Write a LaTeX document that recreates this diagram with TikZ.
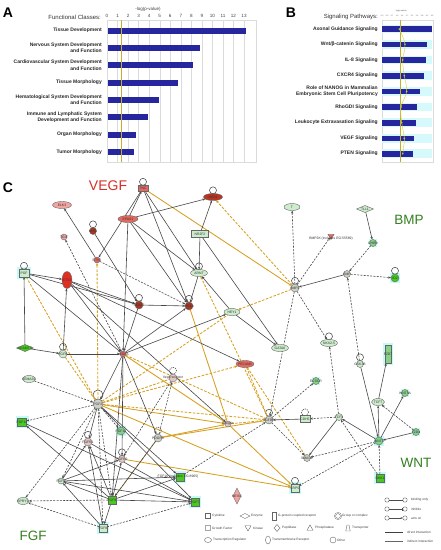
\documentclass[tikz,border=0pt]{standalone}
\usepackage{fontspec}
\setmainfont{Liberation Sans}
\usetikzlibrary{arrows.meta,shapes.geometric}
\definecolor{navy}{RGB}{38,38,158}
\definecolor{thr}{RGB}{196,176,40}
\definecolor{gold}{RGB}{214,160,32}
\definecolor{lred}{RGB}{240,165,160}
\definecolor{mred}{RGB}{228,105,95}
\definecolor{dred}{RGB}{165,55,35}
\definecolor{rred}{RGB}{224,48,36}
\definecolor{lgreen}{RGB}{205,236,205}
\definecolor{mgreen}{RGB}{135,208,135}
\definecolor{bgreen}{RGB}{72,200,32}
\definecolor{gnode}{RGB}{205,208,198}
\definecolor{pnode}{RGB}{228,198,198}
\definecolor{txtred}{RGB}{212,48,42}
\definecolor{txtgreen}{RGB}{52,128,30}
\definecolor{band}{RGB}{214,250,252}
\definecolor{ratio}{RGB}{230,205,60}
\definecolor{halo}{RGB}{198,250,248}
\pgfdeclarelayer{bg}
\pgfdeclarelayer{edges}
\pgfsetlayers{bg,edges,main}
\newcommand{\myloop}[2][lp]{\draw[#1] ([yshift=3.2pt]#2.north) circle[radius=3.5pt];}
\newcommand{\myhalo}[1]{\fill[halo] ([shift={(-2pt,-2pt)}]#1.south west) rectangle ([shift={(2pt,2pt)}]#1.north east);}
\begin{document}
\begin{tikzpicture}[x=1pt,y=-1pt,
  gridl/.style={draw=black!14, line width=0.3pt},
  tickA/.style={font=\fontsize{4.6}{4.6}\selectfont, text=black!75, inner sep=0pt},
  tickB/.style={font=\fontsize{1.8}{1.8}\selectfont, text=black!70, inner sep=0pt},
  bar/.style={fill=navy, draw=none},
  labA/.style={anchor=east, align=right, font=\fontsize{5}{6.4}\selectfont\bfseries, text=black!85, inner sep=0pt},
  head/.style={font=\fontsize{14}{14}\selectfont\bfseries, inner sep=0pt},
  big/.style={font=\fontsize{13.5}{13.5}\selectfont, inner sep=0pt},
  thrl/.style={draw=thr, line width=0.7pt},
  nd/.style={draw=black!60, line width=0.4pt, inner sep=0pt, outer sep=0pt},
  lb/.style={font=\fontsize{3.4}{3.4}\selectfont, text=black!80, inner sep=0pt},
  lab/.style={label={[lb]center:#1}},
  elx/.style 2 args={nd, ellipse, minimum width=#1, minimum height=#2},
  rx/.style 2 args={nd, rectangle, minimum width=#1, minimum height=#2},
  cx/.style={nd, circle, minimum size=#1},
  dx/.style 2 args={nd, diamond, minimum width=#1, minimum height=#2},
  tx/.style={nd, regular polygon, regular polygon sides=3, minimum size=#1},
  ed/.style={draw=black!72, line width=0.6pt, -{Stealth[length=2.8pt,width=2.2pt]}},
  ind/.style={ed, dash pattern=on 2pt off 1.3pt},
  ow/.style={draw=gold, line width=0.85pt},
  owd/.style={ow, dash pattern=on 2.6pt off 1.5pt},
  oa/.style={-{Stealth[length=3pt,width=2.4pt]}},
  lp/.style={draw=black!72, line width=0.55pt},
  lpd/.style={lp, dash pattern=on 1.2pt off 0.9pt},
  lgt/.style={anchor=west, font=\fontsize{3.2}{3.2}\selectfont, text=black!75, inner sep=0pt},
  lgl/.style={draw=black!70, line width=0.4pt}
]
\useasboundingbox (0,0) rectangle (440,550);
\begin{pgfonlayer}{bg}
\fill[white] (0,0) rectangle (440,550);
\end{pgfonlayer}

% ---------------- Panel A ----------------
\node[head] (lA) at (8,13) {A};
\node[anchor=east, font=\fontsize{6}{6}\selectfont, text=black!80, inner sep=0pt] (fcA) at (101,17) {Functional Classes:};
\node[font=\fontsize{4.5}{4.5}\selectfont, text=black!75, inner sep=0pt] (axA) at (148,9) {-log(p-value)};
\foreach \k in {0,...,13} {
  \draw[gridl] (107+10.54*\k,20) -- (107+10.54*\k,162);
  \node[tickA] (tA\k) at (107+10.54*\k,16) {\k};
}
\draw[gridl] (107,20) rectangle (256,162);
\fill[bar] (107.5,27.7) rectangle (245.7,33.7);
\fill[bar] (107.5,45) rectangle (200,51);
\fill[bar] (107.5,62.3) rectangle (193,68.3);
\fill[bar] (107.5,79.7) rectangle (177.7,85.7);
\fill[bar] (107.5,97) rectangle (159,103);
\fill[bar] (107.5,114.3) rectangle (147.7,120.3);
\fill[bar] (107.5,131.7) rectangle (136.3,137.7);
\fill[bar] (107.5,149) rectangle (134.3,155);
\draw[thrl] (121,20) -- (121,162);
\node[labA] (a1) at (102,30.7) {Tissue Development};
\node[labA] (a2) at (102,48) {Nervous System Development\\and Function};
\node[labA] (a3) at (102,65.3) {Cardiovascular System Development\\and Function};
\node[labA] (a4) at (102,82.7) {Tissue Morphology};
\node[labA] (a5) at (102,100) {Hematological System Development\\and Function};
\node[labA] (a6) at (102,117.3) {Immune and Lymphatic System\\Development and Function};
\node[labA] (a7) at (102,134.7) {Organ Morphology};
\node[labA] (a8) at (102,152) {Tumor Morphology};

% ---------------- Panel B ----------------
\node[head] (lB) at (291,12.5) {B};
\node[anchor=east, font=\fontsize{6}{6}\selectfont, text=black!80, inner sep=0pt] (spB) at (378,17) {Signaling Pathways:};
\node[font=\fontsize{2}{2}\selectfont, text=black!70, inner sep=0pt] (axB) at (401,11) {-log(p-value)};
\foreach \k/\v in {0/0.0,1/0.3,2/0.7,3/1.0,4/1.4,5/1.7,6/2.1,7/2.4,8/2.8,9/3.1,10/3.5} {
  \node[tickB] (tB\k) at (382+5*\k,16.3) {\v};
}
\draw[gridl] (381.7,20) rectangle (433,162);
\foreach \y/\e in {29/431.7,44.3/427.3,60/426.3,75.7/424.3,91.3/420.3,107/417.3,122.7/415.7,138.3/413.7,153.7/413.3} {
  \fill[band] (382,\y-4.3) rectangle (432,\y+4.3);
  \fill[bar] (382.3,\y-2.8) rectangle (\e,\y+2.8);
}
\draw[thrl] (400.7,20) -- (400.7,162);
\draw[draw=ratio, line width=0.45pt] plot[smooth, tension=0.6] coordinates {(399.3,29) (405,44.3) (402.7,60) (404.3,75.7) (406.7,91.3) (401,107) (401.7,122.7) (404.3,138.3) (402.7,153.7)};
\foreach \x/\y in {399.3/29,405/44.3,402.7/60,404.3/75.7,406.7/91.3,401/107,401.7/122.7,404.3/138.3,402.7/153.7} {
  \fill[fill=ratio!80!green] (\x,\y) circle[radius=0.9pt];
}
\node[labA] (b1) at (378,29) {Axonal Guidance Signaling};
\node[labA] (b2) at (378,44.3) {Wnt/β-catenin Signaling};
\node[labA] (b3) at (378,60) {IL-8 Signaling};
\node[labA] (b4) at (378,75.7) {CXCR4 Signaling};
\node[labA] (b5) at (378,91.3) {Role of NANOG in Mammalian\\Embryonic Stem Cell Pluripotency};
\node[labA] (b6) at (378,107) {RhoGDI Signaling};
\node[labA] (b7) at (378,122.7) {Leukocyte Extravasation Signaling};
\node[labA] (b8) at (378,138.3) {VEGF Signaling};
\node[labA] (b9) at (378,153.7) {PTEN Signaling};

% ---------------- Panel C ----------------
\node[head] (lC) at (8,188) {C};
\node[big, text=txtred, font=\fontsize{14}{14}\selectfont] (hv) at (108,186) {VEGF};
\node[big, text=txtgreen] (hb) at (409,220) {BMP};
\node[big, text=txtgreen] (hw) at (416,463) {WNT};
\node[big, text=txtgreen] (hf) at (33,536) {FGF};

\node[rx={10pt}{6pt}, fill=mred, lab=TNC] (tnc) at (143,188) {};
\node[elx={19pt}{7pt}, fill=lred, lab=ELK3] (elk) at (62,205) {};
\node[cx=6pt, fill=lred, lab=TGIF] (tgif) at (64,237) {};
\node[cx=7pt, fill=dred, lab=MYC] (myc) at (93,231) {};
\node[elx={20pt}{7pt}, fill=mred, lab=EPAS1] (epas) at (128,219) {};
\node[cx=6pt, fill=mred, lab=ETV2] (etv) at (97,260) {};
\node[elx={10pt}{17pt}, fill=rred, lab=ETS1] (ets) at (67,280) {};
\node[rx={10pt}{8pt}, fill=lgreen, lab=PGF] (pgf) at (24,273) {};
\node[elx={19pt}{7pt}, fill=dred!70!rred, lab=HES1] (hes) at (213,197) {};
\node[rx={17pt}{7pt}, fill=lgreen, lab=NR2F2] (nr) at (200,234) {};
\node[elx={17pt}{7pt}, fill=lgreen, lab=ARNT] (arnt) at (199,273) {};
\node[cx=8pt, fill=dred, lab=SOX17] (sox) at (139,305) {};
\node[cx=8pt, fill=dred, lab=HIF1A] (hif) at (189,306) {};
\node[dx={17pt}{7pt}, fill=bgreen, lab=ADAMTS] (adam) at (25,348) {};
\node[cx=8pt, fill=lgreen, lab=FGFR] (fgfr) at (63,354) {};
\node[cx=6pt, fill=mred, lab=VEGFA] (vegfa) at (123,354) {};
\node[elx={16pt}{7pt}, fill=lgreen, lab=T] (tn) at (292,207) {};
\node[dx={17pt}{7pt}, fill=lgreen, lab=TLL1] (tll) at (365,209) {};
\node[tx=7pt, shape border rotate=180, fill=mred] (bmpk) at (331,236) {};
\node[lb] (bmpkl) at (331,239) {BMP2K (includes EG:55589)};
\node[cx=7pt, fill=mgreen, lab=CHRD] (chrd) at (373,243) {};
\node[cx=7pt, fill=gnode, lab=BMP] (bmp) at (347,274) {};
\node[cx=8pt, fill=bgreen, lab=ID2] (idtwo) at (395,278) {};
\node[cx=8pt, fill=gnode, lab=BMP2] (bmptwo) at (295,288) {};
\node[elx={16pt}{7pt}, fill=lgreen, lab=HEY1] (hey) at (232,312) {};
\node[elx={17pt}{7pt}, fill=lgreen, lab=GATA6] (gata) at (280,348) {};
\node[elx={17pt}{7pt}, fill=lgreen, lab=NKX2-5] (nkx) at (329,343) {};
\node[cx=7pt, fill=lgreen, lab=GSK3B] (gsk) at (360,364) {};
\node[rx={6pt}{18pt}, fill=mgreen, lab=FZD7] (fzdseven) at (388,354) {};
\node[elx={13pt}{7pt}, fill=lgreen, lab=SEMA3C] (sema) at (29,379) {};
\node[cx=10pt, fill=gnode, lab=FGF2] (fgftwo) at (98,404) {};
\node[rx={9pt}{8pt}, fill=bgreen, lab=FGF12] (fgftwelve) at (22,422) {};
\node[cx=8pt, fill=mgreen, lab=FGF13] (fgfthirteen) at (121,431) {};
\node[cx=8pt, fill=pnode, lab=FGFR1] (fgfrone) at (88,442) {};
\node[cx=7pt, fill=pnode, lab=FGFR2] (fgfrtwo) at (122,459) {};
\node[cx=6pt, fill=lgreen, lab=FGF1] (fgfone) at (61,481) {};
\node[rx={8pt}{8pt}, fill=bgreen] (fgfsixteen) at (180,477) {};
\node[lb] (fgfsixteenl) at (178,477) {FGF16 (includes EG:8965)};
\node[elx={12pt}{7pt}, fill=lgreen, lab=SPRY1] (spry) at (23,501) {};
\node[rx={8pt}{8pt}, fill=bgreen, lab=FGF9] (fgfnine) at (112,500) {};
\node[rx={8pt}{8pt}, fill=bgreen, lab=FGF7] (fgfseven) at (195,502) {};
\node[rx={8pt}{8pt}, fill=lgreen, lab=FGF8] (fgfeight) at (103,528) {};
\node[cx=8pt, fill=pnode, lab=Vegf receptor] (vegfr) at (173,378) {};
\node[elx={18pt}{7pt}, fill=mred, lab=PECAM1] (pecam) at (245,364) {};
\node[cx=6pt, fill=pnode, lab=Integrin] (integ) at (228,424) {};
\node[cx=8pt, fill=gnode, lab=TGFBR] (tgfbr) at (269,420) {};
\node[cx=8pt, fill=gnode, lab=PDGFB] (pdgfb) at (158,438) {};
\node[cx=7pt, fill=mgreen, lab=ECSCR] (ecs) at (316,381) {};
\node[rx={10pt}{7pt}, fill=lgreen, lab=CDH5] (cdh) at (305,419) {};
\node[cx=7pt, fill=lgreen, lab=TCF4] (tcffour) at (339,417) {};
\node[elx={13pt}{7pt}, fill=lgreen, lab=TCF7] (tcfseven) at (378,402) {};
\node[cx=7pt, fill=mgreen, lab=WNT5A] (wnta) at (405,393) {};
\node[cx=8pt, fill=mgreen, lab=WNT3] (wnt) at (379,441) {};
\node[cx=7pt, fill=mgreen, lab=FZD4] (fzd) at (416,432) {};
\node[rx={8pt}{8pt}, fill=bgreen, lab=DKK1] (dkk) at (380,478) {};
\node[cx=7pt, fill=gnode, lab=SMAD1] (smad) at (307,458) {};
\node[rx={8pt}{8pt}, fill=lgreen, lab=LRP5] (lrp) at (295,488) {};
\node[dx={8pt}{16pt}, fill=lred, lab=MEIS1] (meis) at (237,496) {};

\begin{pgfonlayer}{bg}
\myhalo{pgf} \myhalo{idtwo} \myhalo{fzdseven} \myhalo{fgftwelve} \myhalo{fgfthirteen}
\myhalo{fgfsixteen} \myhalo{fgfseven} \myhalo{fgfeight} \myhalo{wnta} \myhalo{fzd}
\myhalo{dkk} \myhalo{lrp} \myhalo{ecs} \myhalo{wnt} \myhalo{chrd}
\end{pgfonlayer}

\begin{pgfonlayer}{edges}
% loops
\myloop{tnc} \myloop{myc} \myloop{hes} \myloop{arnt} \myloop{pgf} \myloop{sox}
\myloop{hif} \myloop{fgfr} \myloop{idtwo} \myloop{bmptwo} \myloop{nkx} \myloop{gsk}
\myloop{fgfrone} \myloop{fgfrtwo} \myloop{tgfbr} \myloop{lrp}
\myloop[lpd]{vegfr} \myloop[lpd]{pdgfb} \myloop[lpd]{cdh}
\draw[lp] ([yshift=4pt]fgftwo.north) circle[radius=5pt];
% orange solid
\draw[ow, oa] (tnc) -- (bmptwo);
\draw[ow, oa] (hif) -- (integ);
\draw[ow, oa] (fgftwo) -- (integ);
\draw[ow, oa] (vegfa) -- (integ);
\draw[ow, oa] (pdgfb) -- (integ);
\draw[ow] (pdgfb) -- (tgfbr);
\draw[ow, oa] (integ) -- (lrp);
\draw[ow, oa] (fgftwo) -- (lrp);
\draw[ow, oa] (fgfrtwo) -- (lrp);
% orange dashed
\draw[owd, oa] (bmptwo) -- (hes);
\draw[owd, oa] (bmptwo) -- (hey);
\draw[owd, oa] (tgfbr) -- (arnt);
\draw[owd] (pgf) -- (fgftwo);
\draw[owd] (fgfr) -- (fgftwo);
\draw[owd, oa] (fgftwo) -- (etv);
\draw[owd, oa] (fgftwo) -- (pecam);
\draw[owd] (fgftwo) -- (tgfbr);
\draw[owd] (vegfa) -- (tgfbr);
\draw[owd] (fgftwo) -- (vegfr);
\draw[owd] (pecam) -- (smad);
\draw[owd] (pecam) -- (tgfbr);
\draw[owd] (integ) -- (tgfbr);
\draw[owd] (fgfnine) -- (pdgfb);
\draw[owd] (fgftwo) -- (hey);
% direct interactions
\draw[ed] (epas) -- (tnc);
\draw[ed] (epas) -- (hes);
\draw[ed] (epas) -- (arnt);
\draw[ed] (epas) -- (hif);
\draw[ed] (epas) -- (vegfa);
\draw[ed] (tnc) -- (etv);
\draw[ed] (tnc) -- (arnt);
\draw[ed] (tnc) -- (hif);
\draw[ed] (etv) -- (elk);
\draw[ed] (myc) -- (sox);
\draw[ed] (nr) -- (hes);
\draw[ed] (nr) -- (arnt);
\draw[ed] (arnt) -- (hif);
\draw[ed] (hey) -- (arnt);
\draw[ed] (nr) -- (gata);
\draw[ed] (hey) -- (gata);
\draw[ed] (pgf) -- (ets);
\draw[ed] (pgf) -- (sox);
\draw[ed] (pgf) -- (vegfa);
\draw[ed] (adam) -- (pgf);
\draw[ed] (adam) -- (fgfr);
\draw[ed] (fgfr) -- (ets);
\draw[ed] (fgfr) -- (vegfa);
\draw[ed] (ets) -- (sox);
\draw[ed] (ets) -- (vegfa);
\draw[ed] (ets) -- (integ);
\draw[ed] (ets) -- (pecam);
\draw[ed] (sox) -- (vegfa);
\draw[ed] (sox) -- (hif);
\draw[ed] (vegfa) -- (hif);
\draw[ed] (vegfa) -- (hey);
\draw[ed] (bmp) -- (bmptwo);
\draw[ed] (tll) -- (chrd);
\draw[ed] (gsk) -- (wnt);
\draw[ed] (wnt) -- (tcfseven);
\draw[ed] (tcfseven) -- (fzdseven);
\draw[ed] (wnt) -- (wnta);
\draw[ed] (fzd) -- (wnt);
\draw[ed] (wnt) -- (tcffour);
\draw[ed] (cdh) -- (tgfbr);
\draw[ed] (tcffour) -- (smad);
\draw[ed] (vegfa) -- (fgftwo);
\draw[ed] (vegfa) -- (pdgfb);
\draw[ed] (vegfa) -- (fgfrtwo);
\draw[ed] (vegfa) -- (fgfnine);
\draw[ed] (fgftwo) -- (fgfseven);
\draw[ed] (fgftwo) -- (fgfsixteen);
\draw[ed] (fgfnine) -- (fgftwelve);
\draw[ed] (fgfnine) -- (fgfone);
\draw[ed] (fgfnine) -- (fgfsixteen);
\draw[ed] (fgfnine) -- (fgfseven);
\draw[ed] (fgfnine) -- (fgfeight);
\draw[ed] (fgfnine) -- (fgfrone);
\draw[ed] (fgfnine) -- (fgfrtwo);
\draw[ed] (fgfone) -- (fgfsixteen);
\draw[ed] (fgfone) -- (fgfseven);
\draw[ed] (fgfone) -- (fgfrone);
\draw[ed] (fgfone) -- (fgfrtwo);
\draw[ed] (fgfeight) -- (fgfone);
\draw[ed] (fgfeight) -- (fgfrone);
\draw[ed] (fgftwelve) -- (fgfseven);
\draw[ed] (fgfrone) -- (fgfseven);
\draw[ed] (fgftwo) -- (fgfrone);
\draw[ed] (pdgfb) -- (fgfnine);
% indirect interactions
\draw[ind] (vegfa) -- (tgif);
\draw[ind] (etv) -- (hif);
\draw[ind] (chrd) -- (bmp);
\draw[ind] (bmp) -- (idtwo);
\draw[ind] (gsk) -- (bmp);
\draw[ind] (fzd) -- (tcfseven);
\draw[ind] (dkk) -- (wnt);
\draw[ind] (tcffour) -- (cdh);
\draw[ind] (tgfbr) -- (ecs);
\draw[ind] (tgfbr) -- (smad);
\draw[ind] (wnt) -- (smad);
\draw[ind] (dkk) -- (tcffour);
\draw[ind] (wnt) -- (lrp);
\draw[ind] (bmptwo) -- (tn);
\draw[ind] (bmptwo) -- (bmpk);
\draw[ind] (bmptwo) -- (nkx);
\draw[ind] (bmptwo) -- (tgfbr);
\draw[ind] (tcffour) -- (nkx);
\draw[ind] (sema) -- (fgftwo);
\draw[ind] (fgftwo) -- (fgftwelve);
\draw[ind] (fgftwo) -- (fgfthirteen);
\draw[ind] (fgftwo) -- (fgfone);
\draw[ind] (fgftwo) -- (fgfnine);
\draw[ind] (fgftwo) -- (fgfeight);
\draw[ind] (fgftwo) -- (spry);
\draw[ind] (fgfnine) -- (spry);
\draw[ind] (fgfeight) -- (fgfseven);
\draw[ind] (fgfeight) -- (spry);
\draw[ind] (pdgfb) -- (vegfr);
\draw[ind] (vegfr) -- (fgfrtwo);
\draw[ind] (fgfsixteen) -- (tgfbr);
\end{pgfonlayer}

% ---------------- Legend ----------------
\node[rx={5pt}{5pt}] (lg1) at (208,516) {};
\node[lgt] (lg1t) at (212,516) {Cytokine};
\node[dx={10pt}{5pt}] (lg2) at (245,516) {};
\node[lgt] (lg2t) at (251,516) {Enzyme};
\node[rx={4pt}{8pt}] (lg3) at (274,516) {};
\node[lgt] (lg3t) at (278,516) {G-protein coupled receptor};
\node[cx=6pt, double, double distance=0.6pt] (lg4) at (338,516) {};
\node[lgt] (lg4t) at (342,516) {Group or complex};
\node[rx={5pt}{5pt}, draw=black!35] (lg5) at (208,528) {};
\node[lgt] (lg5t) at (212,528) {Growth Factor};
\node[tx=7pt, shape border rotate=180] (lg6) at (248,527.5) {};
\node[lgt] (lg6t) at (253,528) {Kinase};
\node[dx={6pt}{7pt}] (lg7) at (277,528) {};
\node[lgt] (lg7t) at (282,528) {Peptidase};
\node[tx=7pt] (lg8) at (310,528.5) {};
\node[lgt] (lg8t) at (315,528) {Phosphatase};
\draw[draw=black!55, line width=0.4pt] (345.8,531) -- (347,525) -- (349,525) -- (350.2,531) -- cycle;
\node[lgt] (lg9t) at (352,528) {Transporter};
\node[elx={7pt}{5pt}] (lg10) at (208,540) {};
\node[lgt] (lg10t) at (213,540) {Transcription Regulator};
\node[elx={5pt}{8pt}] (lg11) at (268,540) {};
\node[lgt] (lg11t) at (272,540) {Transmembrane Receptor};
\node[cx=6pt] (lg12) at (333,540) {};
\node[lgt] (lg12t) at (337,540) {Other};

\node[cx=4.4pt] (r1a) at (387,500) {};
\node[cx=4.4pt] (r1b) at (405,500) {};
\draw[lgl] (r1a) -- (r1b);
\node[lgt] (r1t) at (411,500) {binding only};
\node[cx=4.4pt] (r2a) at (387,509) {};
\node[cx=4.4pt] (r2b) at (405,509) {};
\draw[lgl, -{Bar[width=3pt]}] (r2a) -- (r2b);
\node[lgt] (r2t) at (411,509) {inhibits};
\node[cx=4.4pt] (r3a) at (387,518) {};
\node[cx=4.4pt] (r3b) at (405,518) {};
\draw[lgl, -{Stealth[length=2.2pt,width=1.8pt]}] (r3a) -- (r3b);
\node[lgt] (r3t) at (411,518) {acts on};
\coordinate (d1) at (385,532);
\coordinate (d2) at (403,532);
\draw[draw=black!75, line width=0.7pt] (d1) -- (d2);
\node[lgt] (d1t) at (407,532) {direct interaction};
\coordinate (i1) at (385,541);
\coordinate (i2) at (403,541);
\draw[draw=black!60, line width=0.35pt] (i1) -- (i2);
\node[lgt] (i1t) at (407,541) {indirect interaction};
\end{tikzpicture}
\end{document}
